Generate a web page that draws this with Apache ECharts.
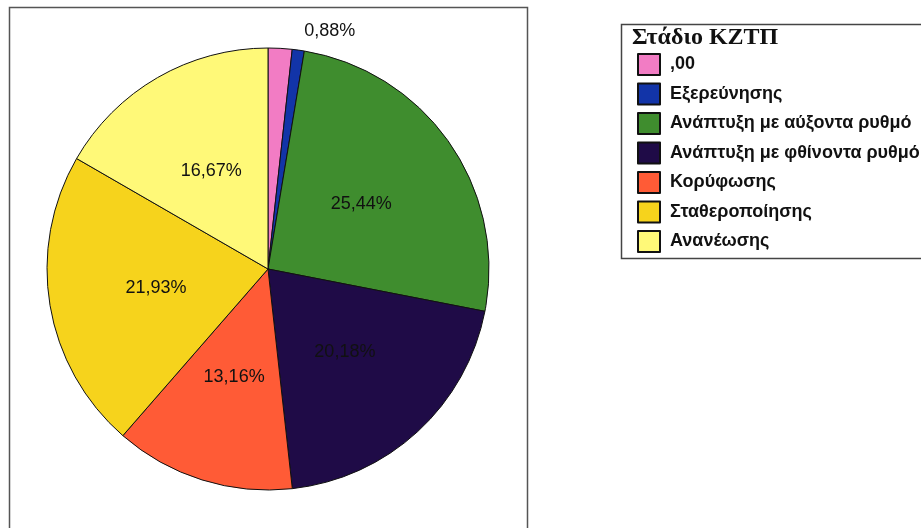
<!DOCTYPE html>
<html>
<head>
<meta charset="utf-8">
<script src="https://cdn.jsdelivr.net/npm/echarts@6/dist/echarts.min.js"></script>
<style>
  html, body { margin: 0; padding: 0; background: #fff; }
  #chart { width: 921px; height: 528px; }
</style>
</head>
<body>
<div id="chart"></div>
<script>
// Στάδιο ΚΖΤΠ - κατανομή (%)
var stageNames = [',00', 'Εξερεύνησης', 'Ανάπτυξη με αύξοντα ρυθμό', 'Ανάπτυξη με φθίνοντα ρυθμό', 'Κορύφωσης', 'Σταθεροποίησης', 'Ανανέωσης']
var stageValues = [1.75, 0.88, 25.44, 20.18, 13.16, 21.93, 16.67]
var stageColors = ['#f27cc4', '#1234a8', '#3f8d2e', '#1f0b47', '#ff5b36', '#f6d31c', '#fff978']

var pieData = stageNames.map(function (name, i) {
  var item = { name: name, value: stageValues[i], itemStyle: { color: stageColors[i] } }
  if (i === 0) {
    // το ροζ κομμάτι δεν έχει ετικέτα
    item.label = { show: false }
  }
  if (i === 1) {
    // μικρό κομμάτι: ετικέτα έξω, χωρίς γραμμή
    item.label = { show: true, position: 'outside', color: '#111' }
    item.labelLine = { show: false, length: 14, length2: 4 }
  }
  return item
})

var mCharts = echarts.init(document.getElementById('chart'))
var option = {
  backgroundColor: '#fff',
  animation: false,
  graphic: [
    // πλαίσιο γραφήματος
    {
      type: 'rect',
      shape: { x: 9.5, y: 7.5, width: 518, height: 540 },
      style: { fill: 'none', stroke: '#555', lineWidth: 1.5 },
      z: -1
    },
    // πλαίσιο υπομνήματος
    {
      type: 'rect',
      shape: { x: 621.5, y: 24.5, width: 320, height: 234 },
      style: { fill: '#fff', stroke: '#444', lineWidth: 1.5 },
      z: -1
    },
    {
      type: 'text',
      left: 632,
      top: 26,
      style: {
        text: 'Στάδιο ΚΖΤΠ',
        font: 'bold 24px "Liberation Serif", "DejaVu Serif", serif',
        fill: '#111'
      }
    }
  ],
  legend: {
    orient: 'vertical',
    left: 632,
    top: 48,
    icon: 'rect',
    itemWidth: 22,
    itemHeight: 21,
    itemGap: 6.5,
    selectedMode: false,
    textStyle: {
      fontFamily: 'Liberation Sans, Arial, sans-serif',
      fontSize: 18,
      fontWeight: 'bold',
      color: '#111',
      padding: [0, 0, 0, 5]
    },
    data: stageNames
  },
  series: [
    {
      type: 'pie',
      center: [268, 269],
      radius: 221,
      startAngle: 90,
      clockwise: true,
      avoidLabelOverlap: false,
      itemStyle: {
        borderColor: '#111',
        borderWidth: 1
      },
      label: {
        show: true,
        position: 'inside',
        formatter: function (p) {
          return p.value.toFixed(2).replace('.', ',') + '%'
        },
        fontFamily: 'Liberation Sans, Arial, sans-serif',
        fontSize: 18,
        color: '#111'
      },
      labelLayout: function (p) {
        if (p.dataIndex === 1) return { dx: -5, dy: -5 }
        return {}
      },
      labelLine: { show: false },
      emphasis: { disabled: true },
      data: pieData
    }
  ]
}
mCharts.setOption(option)
</script>
</body>
</html>
